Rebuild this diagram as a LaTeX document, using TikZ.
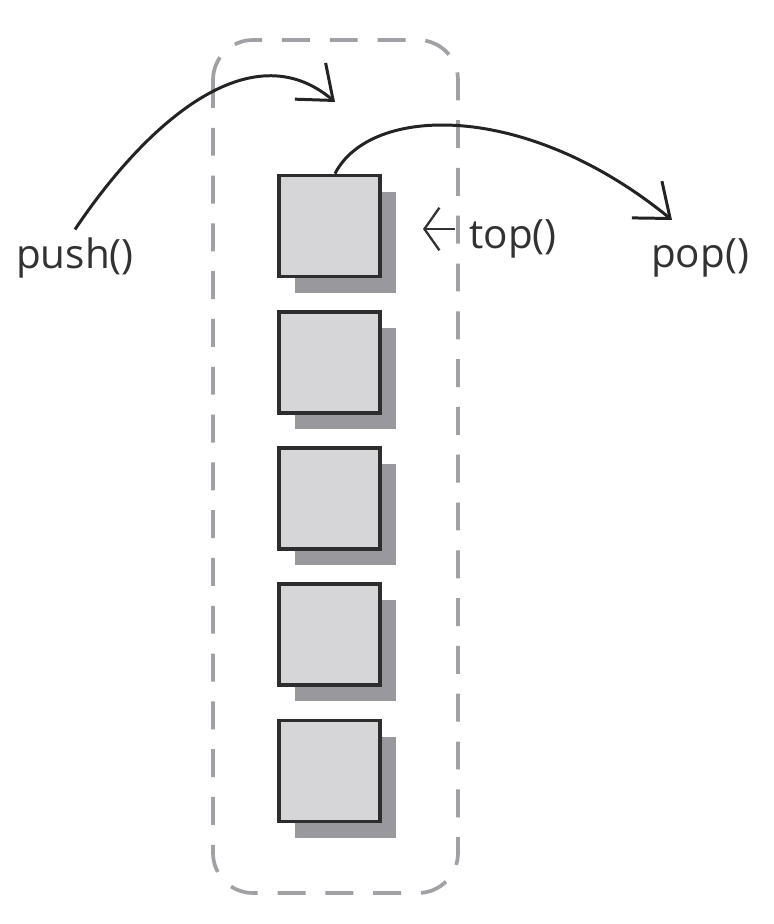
\documentclass[tikz,border=0pt]{standalone}
\usepackage{fontspec}
\setmainfont{Open Sans}
\usepackage{xcolor}
\usetikzlibrary{arrows.meta,shadows}

\begin{document}
\begin{tikzpicture}[
        stackbox/.style={draw=boxline, line width=2.1pt, fill=boxfill, minimum size=2.02cm, inner sep=0pt,
            drop shadow={shadow xshift=0.32cm, shadow yshift=-0.32cm, fill=boxshadow, opacity=1}},
        oplabel/.style={text=labelcolor, font=\fontsize{23}{28}\selectfont, inner sep=0pt, anchor=base},
        oparrow/.style={draw=arrowcolor, line width=1.7pt, -{Straight Barb[length=0.6cm, width=0.95cm, line width=1.7pt]}},
        smallarrow/.style={draw=labelcolor, line width=1.3pt, -{Straight Barb[length=0.3cm, width=0.85cm, line width=1.3pt]}}
    ]
        % Define colors
        \definecolor{boxfill}{RGB}{214,214,217}
        \definecolor{boxshadow}{RGB}{152,152,157}
        \definecolor{boxline}{RGB}{45,45,45}
        \definecolor{dashcolor}{RGB}{160,160,165}
        \definecolor{arrowcolor}{RGB}{35,35,35}
        \definecolor{labelcolor}{RGB}{50,50,50}

        % Canvas
        \fill[white] (0,0) rectangle (15.48,-18.48);
        \useasboundingbox (0,0) rectangle (15.48,-18.48);

        % Stack outline
        \draw[dashcolor, line width=2.1pt, dash pattern=on 15.9pt off 11.3pt, rounded corners=0.8cm]
            (4.26,-0.8) rectangle (9.16,-17.86);

        % Stack elements
        \foreach \i in {1,...,5}
            \node[stackbox] (b\i) at (6.59,{-4.52-(\i-1)*2.725}) {};

        % Labels
        \node[oplabel] (push) at (1.5,-5.36) {push()};
        \node[oplabel] (toplbl) at (10.26,-4.96) {top()};
        \node[oplabel] (pop) at (14.0,-5.34) {pop()};

        % Operations
        \coordinate (pushtip) at (6.7,-2.04);
        \coordinate (poptip) at (13.44,-4.4);
        \coordinate (toptip) at (8.46,-4.58);
        \draw[oparrow] ([yshift=0.15cm]push.north) .. controls (2.9,-2.5) and (5.0,-0.6) .. (pushtip);
        \draw[oparrow] ([xshift=0.11cm]b1.north) .. controls (7.4,-2.1) and (10.5,-2.0) .. (poptip);
        \draw[smallarrow, shorten <=0.28cm] (toplbl.west |- toptip) -- (toptip);

    \end{tikzpicture}
\end{document}
